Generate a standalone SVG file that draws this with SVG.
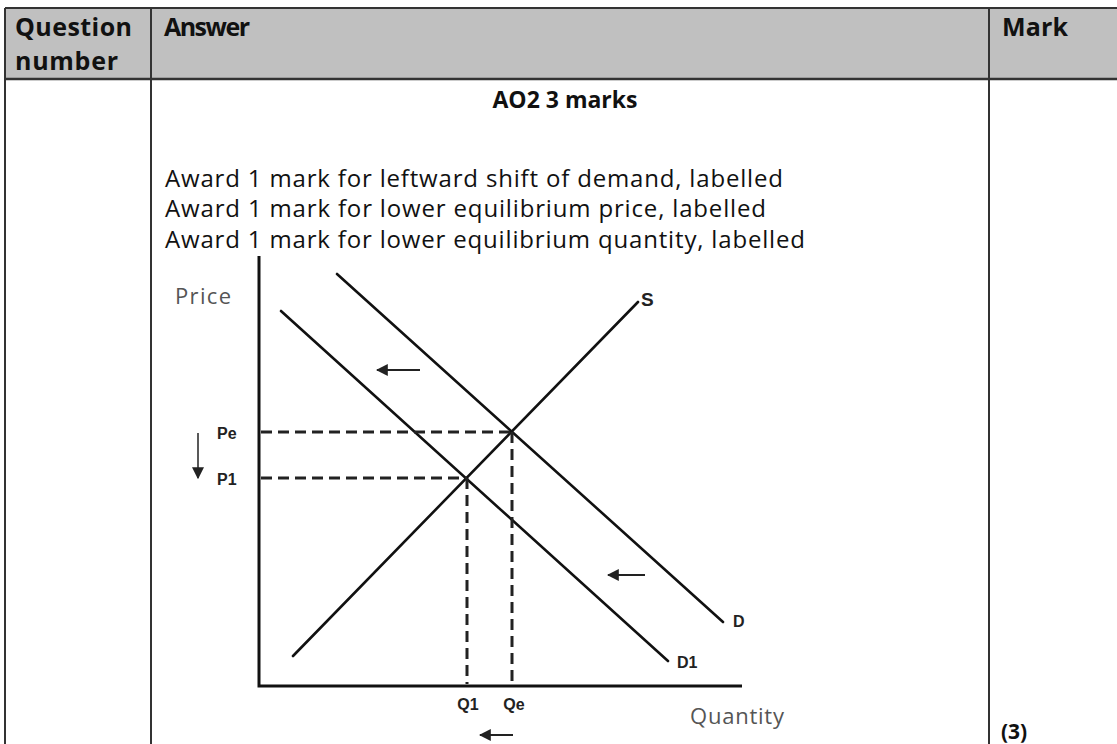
<svg xmlns="http://www.w3.org/2000/svg" width="1117" height="744" viewBox="0 0 1117 744">
<style>
.tbl{stroke:#333;stroke-width:2;fill:none}
.hd{font-family:"Open Sans",sans-serif;font-weight:bold;font-size:25px;fill:#111}
.body{font-family:"Open Sans",sans-serif;font-size:24px;fill:#111}
.bodyb{font-family:"Open Sans",sans-serif;font-size:23px;font-weight:bold;fill:#111}
.curve{stroke:#111;stroke-width:2.6;fill:none;stroke-linecap:round}
.axis{stroke:#111;stroke-width:3;fill:none}
.dash{stroke:#222;stroke-width:3;stroke-dasharray:11 6;fill:none}
.lbl{font-family:"Liberation Sans",Arial,sans-serif;font-weight:bold;font-size:16px;fill:#222}
.ax{font-family:"Open Sans",sans-serif;font-size:22px;fill:#555}
.arr{stroke:#222;stroke-width:2;fill:none}
</style>
<defs>
<marker id="ah" viewBox="0 0 10 10" refX="9" refY="5" markerWidth="6" markerHeight="6" orient="auto" markerUnits="strokeWidth"><path d="M0,0 L10,5 L0,10 z" fill="#222"/></marker>
<marker id="ahd" viewBox="0 0 10 10" refX="9" refY="5" markerWidth="8" markerHeight="8" orient="auto" markerUnits="strokeWidth"><path d="M0,0 L10,5 L0,10 z" fill="#222"/></marker>
</defs>
<g id="table">
<rect x="5" y="8" width="1112" height="71" fill="#c0c0c0"/>
<line class="tbl" x1="5" y1="8" x2="1117" y2="8"/>
<line class="tbl" x1="5" y1="79" x2="1117" y2="79" style="stroke-width:2.5"/>
<line class="tbl" x1="5" y1="8" x2="5" y2="744"/>
<line class="tbl" x1="151" y1="8" x2="151" y2="744"/>
<line class="tbl" x1="989" y1="8" x2="989" y2="744"/>
</g>
<g id="header">
<text class="hd" x="15" y="36" textLength="117">Question</text>
<text class="hd" x="15" y="70" textLength="103">number</text>
<text class="hd" x="164" y="36" textLength="86">Answer</text>
<text class="hd" x="1002" y="36" textLength="66">Mark</text>
</g>
<g id="answer-text">
<text class="bodyb" x="565" y="108" text-anchor="middle">AO2 3 marks</text>
<text class="body" x="165" y="187" textLength="618">Award 1 mark for leftward shift of demand, labelled</text>
<text class="body" x="165" y="217" textLength="601">Award 1 mark for lower equilibrium price, labelled</text>
<text class="body" x="165" y="248" textLength="640">Award 1 mark for lower equilibrium quantity, labelled</text>
</g>
<g id="mark">
<text class="bodyb" x="1001" y="739" style="font-size:21px">(3)</text>
</g>
<g id="axes">
<path class="axis" d="M259,256 V686 H742"/>
<text class="ax" x="175" y="304" textLength="56">Price</text>
<text class="ax" x="690" y="724" textLength="94">Quantity</text>
</g>
<g id="curve-S">
<line class="curve" x1="293" y1="656" x2="638" y2="302"/>
<text class="lbl" x="641" y="306" style="font-size:19px">S</text>
</g>
<g id="curve-D">
<line class="curve" x1="337" y1="274" x2="723" y2="622"/>
<text class="lbl" x="733" y="627">D</text>
</g>
<g id="curve-D1">
<line class="curve" x1="281" y1="311" x2="668" y2="661"/>
<text class="lbl" x="677" y="668">D1</text>
</g>
<g id="price-labels">
<text class="lbl" x="217" y="439">Pe</text>
<text class="lbl" x="217" y="485">P1</text>
</g>
<g id="quantity-labels">
<text class="lbl" x="468" y="710" text-anchor="middle">Q1</text>
<text class="lbl" x="514" y="710" text-anchor="middle">Qe</text>
</g>
<g id="connectors">
<line class="dash" x1="261" y1="432" x2="512" y2="432"/>
<line class="dash" x1="261" y1="478" x2="467" y2="478"/>
<line class="dash" x1="512" y1="432" x2="512" y2="684"/>
<line class="dash" x1="467" y1="478" x2="467" y2="684"/>
<line class="arr" x1="420" y1="370" x2="377" y2="370" marker-end="url(#ah)"/>
<line class="arr" x1="645" y1="575" x2="608" y2="575" marker-end="url(#ah)"/>
<line class="arr" x1="513" y1="735" x2="480" y2="735" marker-end="url(#ah)"/>
<line class="arr" x1="198" y1="433" x2="198" y2="478" style="stroke-width:1.5" marker-end="url(#ahd)"/>
</g>
</svg>
